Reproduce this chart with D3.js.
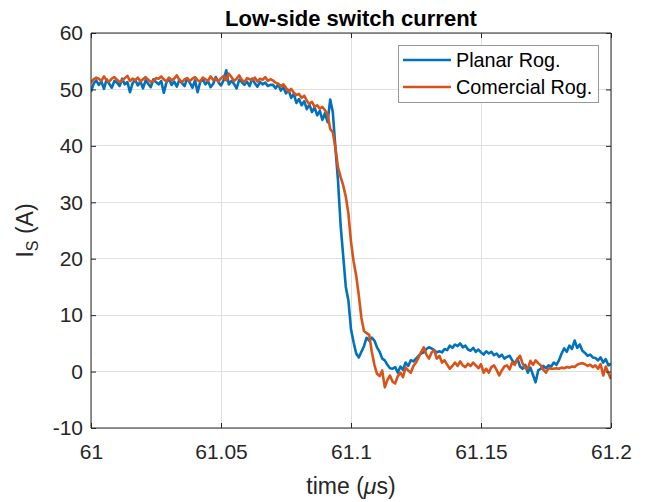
<!DOCTYPE html>
<html>
<head>
<meta charset="utf-8">
<script src="https://cdn.jsdelivr.net/npm/d3@7"></script>
<style>
  html, body { margin: 0; padding: 0; background: #fff; }
  svg { display: block; font-family: "Liberation Sans", Arial, Helvetica, sans-serif; }
</style>
</head>
<body>
<svg id="chart" width="649" height="502"></svg>
<script>
// Sampling of the two probes: t = 61.000 ... 61.200 µs, step 0.001 µs
const tStart = 61.0;
const tStep = 0.001;

// Planar Rogowski probe, switch current (A)
const planarRog = [
  49.6, 51.0, 51.6, 50.8, 51.4, 50.1, 51.8, 51.0, 50.3, 51.5,
  51.2, 50.6, 51.9, 50.9, 51.3, 49.5, 51.1, 51.7, 50.7, 51.4,
  50.2, 51.6, 51.0, 50.4, 51.8, 51.3, 50.9, 51.5, 49.4, 51.2,
  51.9, 50.8, 51.4, 50.5, 51.7, 51.1, 50.6, 52.0, 51.2, 50.3,
  51.6, 49.5, 51.3, 51.8, 50.9, 51.5, 50.4, 51.0, 52.2, 51.3,
  50.7, 51.6, 53.4, 50.9, 51.5, 51.0, 50.2, 51.7, 51.3, 50.8,
  51.4, 50.6, 51.9, 51.1, 50.5, 51.3, 50.9, 51.2, 50.6, 50.8,
  50.8, 50.2, 50.9, 49.8, 50.4, 49.3, 49.9, 48.5, 49.2, 47.6,
  48.3, 47.2, 47.9, 46.5, 47.3, 46.0, 46.8, 45.4, 46.2, 44.6,
  45.8, 44.2, 48.2, 46.0, 39.7, 33.9, 26.0, 20.5, 15.0, 12.6,
  7.5, 5.2, 3.2, 2.5, 3.5, 4.5, 6.0, 5.5, 6.0, 5.5,
  4.3, 3.5, 2.3, 2.0, 1.2, 0.6, 0.5, 0.8, -0.2, 0.9,
  0.3, 1.6, 1.0, 2.0, 1.8, 2.3, 2.8, 3.2, 3.4, 4.0,
  4.3, 4.1, 3.8, 3.4, 3.6, 3.4, 4.0, 3.8, 4.6, 4.2,
  4.8, 4.5, 5.0, 4.3, 4.6, 3.9, 3.7, 4.2, 3.5, 3.9,
  3.4, 3.0, 3.6, 3.2, 3.5, 2.9, 3.2, 2.6, 3.0, 2.3,
  2.6, 2.8, 2.0, 1.4, 2.3, 0.9, 0.5, 1.2, -0.2, 0.7,
  -0.6, -1.9, 0.2, 0.5, 1.0, 0.6, 1.1, 0.9, 1.6, 1.2,
  2.0, 3.2, 4.1, 3.5, 4.6, 4.0, 5.5, 4.2, 4.8, 3.7,
  3.3, 2.8, 3.0, 2.5, 2.4, 2.0, 2.5, 1.6, 2.2, 1.1,
  1.4
];

// Commercial Rogowski probe, switch current (A)
const comercialRog = [
  51.2, 51.8, 52.1, 51.9, 51.5, 52.3, 51.6, 51.4, 51.9, 52.2,
  51.7, 51.3, 51.6, 52.0, 52.4, 51.5, 51.9, 51.6, 52.1, 51.4,
  51.8, 52.2, 51.7, 51.3, 51.5, 52.0, 51.9, 52.3, 51.8, 51.4,
  52.1, 51.6, 51.9, 52.5, 51.7, 51.3, 51.8, 52.0, 51.5, 51.9,
  52.2, 51.6, 51.4, 52.1, 51.8, 51.5, 52.3, 51.7, 51.9, 51.4,
  52.0, 52.4, 51.6, 52.8, 52.2, 51.5, 51.9, 52.5, 51.7, 51.3,
  52.0, 51.8, 51.6, 52.1, 51.4, 51.9, 51.7, 52.2, 51.5, 51.8,
  51.6, 51.2, 51.0, 50.6, 50.9, 50.3, 49.6, 50.1, 49.4, 49.0,
  49.2, 48.5, 48.9, 48.0, 47.4, 47.8, 46.9, 47.2, 46.6, 46.9,
  46.3, 45.6, 43.0, 42.4, 39.7, 36.2, 34.5, 33.0, 31.0, 28.0,
  23.0, 19.5, 17.0, 13.5, 9.5, 7.2, 6.8, 6.5, 3.5, 1.2,
  -0.4, -0.8, 0.2, -2.8, -1.5, -0.7, -1.8, -2.1, -0.8, -0.2,
  -1.0, 0.7, 0.2, -0.2, 1.0, 1.6, 2.5, 3.5, 4.3, 3.0,
  2.3, 3.4, 3.8, 2.3, 2.8, 1.6, 2.0, 1.2, 0.5, 1.0,
  1.6, 1.0, 1.8, 1.1, 0.8, 1.4, 1.0, 1.6, 1.1, 0.6,
  1.3, -0.2, 0.5, -0.2, 0.8, 1.1, 0.3, -0.7, 0.2, 0.9,
  1.1, 0.4, 1.6, 1.2, 2.2, 2.8, 1.4, 0.6, 0.5, 1.9,
  1.2, 2.0, 1.5, 1.1, 0.3, -0.2, 0.6, 0.5, 0.5, 0.6,
  0.5, 0.7, 0.6, 0.8, 0.7, 0.9, 0.8, 1.2, 1.4, 1.5,
  1.3, 1.0, 1.2, 0.8, 1.1, 0.5, 1.3, -0.7, 0.9, -0.3,
  -1.3
];

const seriesNames = ["Planar Rog.", "Comercial Rog."];
const seriesColors = ["#0072BD", "#D95319"];

const xTicks = [61, 61.05, 61.1, 61.15, 61.2];
const xTickLabels = ["61", "61.05", "61.1", "61.15", "61.2"];
const yTicks = [-10, 0, 10, 20, 30, 40, 50, 60];
const yTickLabels = ["-10", "0", "10", "20", "30", "40", "50", "60"];

const svg = d3.select("#chart");
const plot = { left: 91, right: 611, top: 33, bottom: 428 };

const x = d3.scaleLinear().domain([61, 61.2]).range([plot.left, plot.right]);
const y = d3.scaleLinear().domain([-10, 60]).range([plot.bottom, plot.top]);

const axisColor = "#262626";
const gridColor = "#dfdfdf";

// grid
const grid = svg.append("g");
grid.selectAll("line.gx").data(xTicks).join("line")
  .attr("x1", d => x(d)).attr("x2", d => x(d))
  .attr("y1", plot.top).attr("y2", plot.bottom)
  .attr("stroke", gridColor).attr("stroke-width", 1).attr("shape-rendering", "crispEdges");
grid.selectAll("line.gy").data(yTicks).join("line")
  .attr("x1", plot.left).attr("x2", plot.right)
  .attr("y1", d => y(d)).attr("y2", d => y(d))
  .attr("stroke", gridColor).attr("stroke-width", 1).attr("shape-rendering", "crispEdges");

// data lines
svg.append("defs").append("clipPath").attr("id", "plotclip")
  .append("rect").attr("x", plot.left).attr("y", plot.top)
  .attr("width", plot.right - plot.left).attr("height", plot.bottom - plot.top);

const line = d3.line()
  .x((d, i) => x(tStart + i * tStep))
  .y(d => y(d));

const lines = svg.append("g").attr("clip-path", "url(#plotclip)");
[planarRog, comercialRog].forEach((s, k) => {
  lines.append("path").datum(s)
    .attr("d", line)
    .attr("fill", "none")
    .attr("stroke", seriesColors[k])
    .attr("stroke-width", 2.6)
    .attr("stroke-linejoin", "round");
});

// axes (box on, ticks inward)
const tickLen = 5;
const xAxisB = d3.axisBottom(x).tickValues(xTicks).tickSize(-tickLen).tickFormat((d, i) => xTickLabels[i]).tickPadding(16);
const xAxisT = d3.axisTop(x).tickValues(xTicks).tickSize(-tickLen).tickFormat("");
const yAxisL = d3.axisLeft(y).tickValues(yTicks).tickSize(-tickLen).tickFormat((d, i) => yTickLabels[i]).tickPadding(8);
const yAxisR = d3.axisRight(y).tickValues(yTicks).tickSize(-tickLen).tickFormat("");

function styleAxis(g) {
  g.select(".domain").attr("stroke", axisColor).attr("stroke-width", 1);
  g.selectAll(".tick line").attr("stroke", axisColor).attr("stroke-width", 1);
  g.selectAll(".tick text").attr("fill", axisColor)
    .style("font-size", "21px").style("font-family", "Liberation Sans, Arial, sans-serif");
}

svg.append("g").attr("transform", `translate(0,${plot.bottom})`).call(xAxisB).call(styleAxis)
  .call(g => g.select(".domain").attr("d", `M${plot.left},0H${plot.right}`));
svg.append("g").attr("transform", `translate(0,${plot.top})`).call(xAxisT).call(styleAxis)
  .call(g => g.select(".domain").attr("d", `M${plot.left},0H${plot.right}`));
svg.append("g").attr("transform", `translate(${plot.left},0)`).call(yAxisL).call(styleAxis)
  .call(g => g.select(".domain").attr("d", `M0,${plot.top}V${plot.bottom}`));
svg.append("g").attr("transform", `translate(${plot.right},0)`).call(yAxisR).call(styleAxis)
  .call(g => g.select(".domain").attr("d", `M0,${plot.top}V${plot.bottom}`));

// title
svg.append("text")
  .attr("x", (plot.left + plot.right) / 2).attr("y", 26)
  .attr("text-anchor", "middle")
  .style("font-size", "22px").style("font-weight", "bold")
  .attr("fill", "#000")
  .text("Low-side switch current");

// x label: time (µs)
const xl = svg.append("text")
  .attr("x", (plot.left + plot.right) / 2).attr("y", 494)
  .attr("text-anchor", "middle")
  .style("font-size", "23px").attr("fill", axisColor);
xl.append("tspan").text("time (");
xl.append("tspan").style("font-style", "italic").text("\u03BC");
xl.append("tspan").text("s)");

// y label: I_S (A)
const yl = svg.append("text")
  .attr("transform", `translate(33,${(plot.top + plot.bottom) / 2}) rotate(-90)`)
  .attr("text-anchor", "middle")
  .style("font-size", "23px").attr("fill", axisColor);
yl.append("tspan").text("I");
yl.append("tspan").attr("dy", 5).style("font-size", "16px").text("S");
yl.append("tspan").attr("dy", -5).text(" (A)");

// legend
const leg = { x: 398, y: 45, w: 200, h: 57 };
const lg = svg.append("g");
lg.append("rect")
  .attr("x", leg.x + 0.5).attr("y", leg.y + 0.5)
  .attr("width", leg.w).attr("height", leg.h)
  .attr("fill", "#fff").attr("stroke", "#999").attr("stroke-width", 1);
seriesNames.forEach((name, k) => {
  const ry = 60 + k * 27;
  lg.append("line")
    .attr("x1", 403).attr("x2", 451).attr("y1", ry).attr("y2", ry)
    .attr("stroke", seriesColors[k]).attr("stroke-width", 2.6);
  lg.append("text")
    .attr("x", 456).attr("y", ry).attr("dy", "0.35em")
    .style("font-size", "19.8px").attr("fill", "#000")
    .text(name);
});
</script>
</body>
</html>
